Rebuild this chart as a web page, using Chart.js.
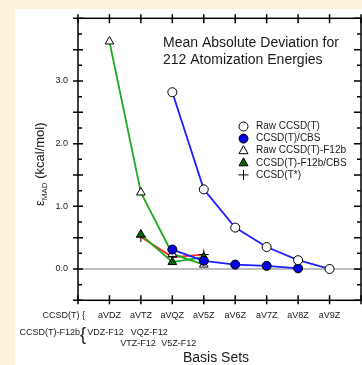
<!DOCTYPE html>
<html>
<head>
<meta charset="utf-8">
<script src="https://cdn.jsdelivr.net/npm/chart.js@4.4.1/dist/chart.umd.min.js"></script>
<style>
  html, body { margin: 0; padding: 0; background: #fdf3dc; }
  canvas { display: block; }
</style>
</head>
<body>
<canvas id="chart" width="362" height="365"></canvas>
<script>
// ─── Data ─────────────────────────────────────────────────────────────────────

const categories = ['aVDZ', 'aVTZ', 'aVQZ', 'aV5Z', 'aV6Z', 'aV7Z', 'aV8Z', 'aV9Z'];
const f12Labels = ['VDZ-F12', 'VTZ-F12', 'VQZ-F12', 'V5Z-F12'];
const yTickLabels = ['0.0', '1.0', '2.0', '3.0'];
const seriesNames = ['Raw CCSD(T)', 'CCSD(T)/CBS', 'Raw CCSD(T)-F12b', 'CCSD(T)-F12b/CBS', 'CCSD(T*)'];

const rawCCSDT  = [null, null, 2.82, 1.27, 0.66, 0.35, 0.14, 0.00];
const cbsCCSDT  = [null, null, 0.31, 0.13, 0.07, 0.05, 0.01, null];
const rawF12b   = [3.63, 1.22, 0.24, 0.07, null, null, null, null];
const cbsF12b   = [null, 0.55, 0.11, 0.19, null, null, null, null];
const ccsdTstar = [null, 0.51, 0.19, 0.23, null, null, null, null];

// ─── Helpers ──────────────────────────────────────────────────────────────────

function toPoints(values) {
  const pts = [];
  values.forEach((v, i) => { if (v !== null) pts.push({ x: i + 1, y: v }); });
  return pts;
}

const BLUE = '#1e1eff';
const GREEN = '#1faa1f';
const RED = '#ff2a2a';
const TEXT = '#1a1a1a';
const FONT = '"Liberation Sans", Arial, sans-serif';

// ─── Plugins ──────────────────────────────────────────────────────────────────

const background = {
  id: 'background',
  beforeDraw(chart) {
    const ctx = chart.ctx;
    ctx.save();
    ctx.fillStyle = '#fdf3dc';
    ctx.fillRect(0, 0, chart.width, chart.height);
    ctx.fillStyle = '#ffffff';
    ctx.fillRect(15, 9, chart.width - 15, chart.height - 9);
    ctx.restore();
  },
};

// frame with ticks crossing the axes, plus the grey zero line
const frame = {
  id: 'frame',
  beforeDatasetsDraw(chart) {
    const { ctx, chartArea: a, scales: { x, y } } = chart;
    ctx.save();

    ctx.strokeStyle = '#a8a8a8';
    ctx.lineWidth = 1.5;
    ctx.beginPath();
    ctx.moveTo(a.left, y.getPixelForValue(0));
    ctx.lineTo(a.right, y.getPixelForValue(0));
    ctx.stroke();

    ctx.strokeStyle = '#000';
    ctx.lineWidth = 1.5;
    ctx.strokeRect(a.left, a.top, a.right - a.left, a.bottom - a.top);

    ctx.beginPath();
    y.ticks.forEach(t => {
      const py = y.getPixelForValue(t.value);
      const major = Math.abs(t.value * 2 - Math.round(t.value * 2)) < 1e-6;
      if (major) {
        ctx.moveTo(a.left - 5, py); ctx.lineTo(a.left + 5, py);
        ctx.moveTo(a.right - 7, py); ctx.lineTo(a.right, py);
      } else {
        ctx.moveTo(a.left, py); ctx.lineTo(a.left + 4, py);
        ctx.moveTo(a.right - 4, py); ctx.lineTo(a.right, py);
      }
    });
    x.ticks.forEach(t => {
      const px = x.getPixelForValue(t.value);
      ctx.moveTo(px, a.bottom - 5); ctx.lineTo(px, a.bottom + 4);
      ctx.moveTo(px, a.top - 4); ctx.lineTo(px, a.top + 5);
    });
    ctx.stroke();
    ctx.restore();
  },
};

function drawMarker(ctx, style, cx, cy) {
  ctx.lineWidth = 1;
  ctx.strokeStyle = '#000';
  ctx.beginPath();
  if (style.shape === 'circle') {
    ctx.arc(cx, cy, 4.5, 0, Math.PI * 2);
  } else if (style.shape === 'triangle') {
    ctx.moveTo(cx, cy - 5);
    ctx.lineTo(cx + 4.5, cy + 3);
    ctx.lineTo(cx - 4.5, cy + 3);
    ctx.closePath();
  } else {
    ctx.moveTo(cx - 5, cy); ctx.lineTo(cx + 5, cy);
    ctx.moveTo(cx, cy - 5); ctx.lineTo(cx, cy + 5);
    ctx.stroke();
    return;
  }
  ctx.fillStyle = style.fill;
  ctx.fill();
  ctx.stroke();
}

const legendStyles = [
  { shape: 'circle', fill: '#fff' },
  { shape: 'circle', fill: '#0000e0' },
  { shape: 'triangle', fill: '#fff' },
  { shape: 'triangle', fill: '#006400' },
  { shape: 'cross', fill: '#000' },
];

const annotations = {
  id: 'annotations',
  afterDraw(chart) {
    const { ctx, scales: { x } } = chart;
    ctx.save();
    ctx.fillStyle = TEXT;

    // title
    ctx.font = '14px ' + FONT;
    ctx.textAlign = 'left';
    ctx.textBaseline = 'middle';
    ctx.fillText('Mean Absolute Deviation for', 163, 43);
    ctx.fillText('212 Atomization Energies', 163, 60);

    // legend
    ctx.font = '10px ' + FONT;
    seriesNames.forEach((name, i) => {
      const ly = 126.5 + i * 12.1;
      drawMarker(ctx, legendStyles[i], 243.5, ly);
      ctx.fillStyle = TEXT;
      ctx.fillText(name, 256, ly);
    });

    // y axis title: ε_MAD (kcal/mol)
    ctx.save();
    ctx.translate(40, 206);
    ctx.rotate(-Math.PI / 2);
    ctx.textAlign = 'left';
    ctx.textBaseline = 'alphabetic';
    ctx.font = '13px ' + FONT;
    ctx.fillText('ε', 0, 4);
    let off = ctx.measureText('ε').width;
    ctx.font = '8px ' + FONT;
    ctx.fillText('MAD', off, 7);
    off += ctx.measureText('MAD').width;
    ctx.font = '13px ' + FONT;
    ctx.fillText(' (kcal/mol)', off, 4);
    ctx.restore();

    // basis-set rows
    ctx.font = '9px ' + FONT;
    ctx.textAlign = 'right';
    ctx.fillText('CCSD(T) {', 85, 316);
    ctx.fillText('CCSD(T)-F12b', 80, 333);
    ctx.font = '18px ' + FONT;
    ctx.textAlign = 'left';
    ctx.fillText('{', 80, 335);

    ctx.font = '9px ' + FONT;
    ctx.textAlign = 'center';
    ctx.fillText(f12Labels[0], x.getPixelForValue(1) - 4, 332.5);
    ctx.fillText(f12Labels[1], x.getPixelForValue(2) - 3, 344);
    ctx.fillText(f12Labels[2], x.getPixelForValue(3) - 23, 332.5);
    ctx.fillText(f12Labels[3], x.getPixelForValue(4) - 25, 344);

    ctx.font = '14px ' + FONT;
    ctx.fillText('Basis Sets', 216, 358);
    ctx.restore();
  },
};

// ─── Chart ────────────────────────────────────────────────────────────────────

function lineDataset(label, values, color, style, fill, radius) {
  return {
    label,
    data: toPoints(values),
    borderColor: color,
    borderWidth: 1.8,
    pointStyle: style,
    pointRadius: radius,
    pointHoverRadius: radius,
    pointBackgroundColor: fill,
    pointBorderColor: '#000',
    pointBorderWidth: 1,
    tension: 0,
    clip: false,
  };
}

Chart.defaults.font.family = FONT;
Chart.defaults.color = TEXT;

new Chart(document.getElementById('chart').getContext('2d'), {
  type: 'line',
  data: {
    datasets: [
      lineDataset(seriesNames[0], rawCCSDT, BLUE, 'circle', '#fff', 4.5),
      lineDataset(seriesNames[1], cbsCCSDT, BLUE, 'circle', '#0000e0', 4.5),
      lineDataset(seriesNames[2], rawF12b, GREEN, 'triangle', '#fff', 5),
      lineDataset(seriesNames[3], cbsF12b, GREEN, 'triangle', '#006400', 5),
      lineDataset(seriesNames[4], ccsdTstar, RED, 'cross', '#000', 5),
    ],
  },
  options: {
    responsive: false,
    animation: false,
    events: [],
    layout: { autoPadding: false, padding: { left: 0, top: 18.3, right: 1, bottom: 0 } },
    plugins: { legend: { display: false }, tooltip: { enabled: false } },
    scales: {
      x: {
        type: 'linear',
        min: 0,
        max: 9,
        grid: { display: false, drawTicks: false },
        border: { display: false },
        afterFit: s => { s.height = 64.7; s.paddingLeft = 0; s.paddingRight = 0; },
        ticks: {
          stepSize: 1,
          autoSkip: false,
          maxRotation: 0,
          padding: 10,
          font: { size: 9 },
          callback: v => categories[v - 1] || '',
        },
      },
      y: {
        min: -0.5,
        max: 4,
        grid: { display: false, drawTicks: false },
        border: { display: false },
        afterFit: s => { s.width = 78; s.paddingTop = 0; s.paddingBottom = 0; },
        ticks: {
          stepSize: 0.25,
          autoSkip: false,
          padding: 10,
          font: { size: 9 },
          callback: v => (Number.isInteger(v) && v >= 0 && v <= 3 ? yTickLabels[v] : ''),
        },
      },
    },
  },
  plugins: [background, frame, annotations],
});
</script>
</body>
</html>
